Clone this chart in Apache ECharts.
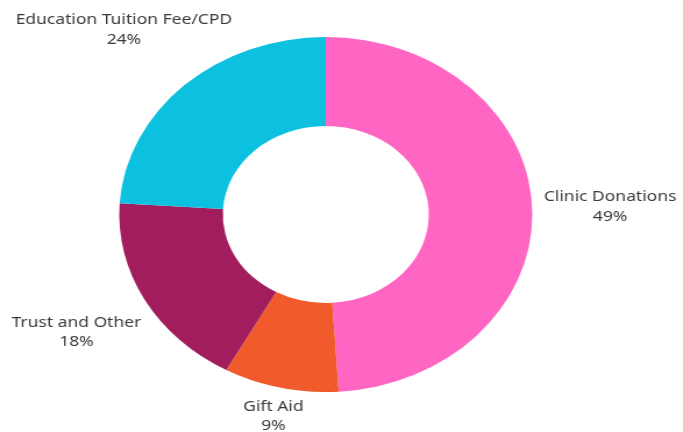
<!DOCTYPE html>
<html>
<head>
<meta charset="utf-8">
<script src="https://cdn.jsdelivr.net/npm/echarts@6/dist/echarts.min.js"></script>
<style>
	html, body { margin: 0; padding: 0; background: #fff; overflow: hidden; }
	/* the reference is stretched sideways, so the chart is drawn narrow and scaled */
	#main { width: 587px; height: 432px; transform: scaleX(1.1635); transform-origin: 0 0; }
</style>
</head>
<body>
<div id="main"></div>
<script>
const categories = ['Clinic Donations', 'Gift Aid', 'Trust and Other', 'Education Tuition Fee/CPD']
const shares = [49, 9, 18, 24]
const colorList = ['#FF66C4', '#F15A2A', '#A11D5D', '#0CC0DF']
// distance from the ring to the label centre
const labelGap = [67, 29, 67, 76]

const chartDom = echarts.init(document.getElementById('main'))

const option = {
	animation: false,
	series: [ {
		type: 'pie',
		center: [280, 214.5],
		radius: [88.5, 177.5],
		startAngle: 90,
		clockwise: true,
		avoidLabelOverlap: false,
		label: {
			show: true,
			position: 'outside',
			distanceToLabelLine: 0,
			formatter: '{n|{b}}\n{n|{c}%}',
			rich: {
				n: {
					align: 'center',
					fontFamily: 'Noto Sans',
					fontSize: 15,
					lineHeight: 19.5,
					color: '#3a3a3a'
				}
			}
		},
		labelLine: {
			show: false,
			length2: 0
		},
		labelLayout: function () {
			return { align: 'center', verticalAlign: 'middle' }
		},
		data: categories.map((name, i) => ({
			name: name,
			value: shares[i],
			itemStyle: { color: colorList[i] },
			labelLine: { show: false, length: labelGap[i], length2: 0 }
		}))
	} ]
}

chartDom.setOption(option, true)
</script>
</body>
</html>
